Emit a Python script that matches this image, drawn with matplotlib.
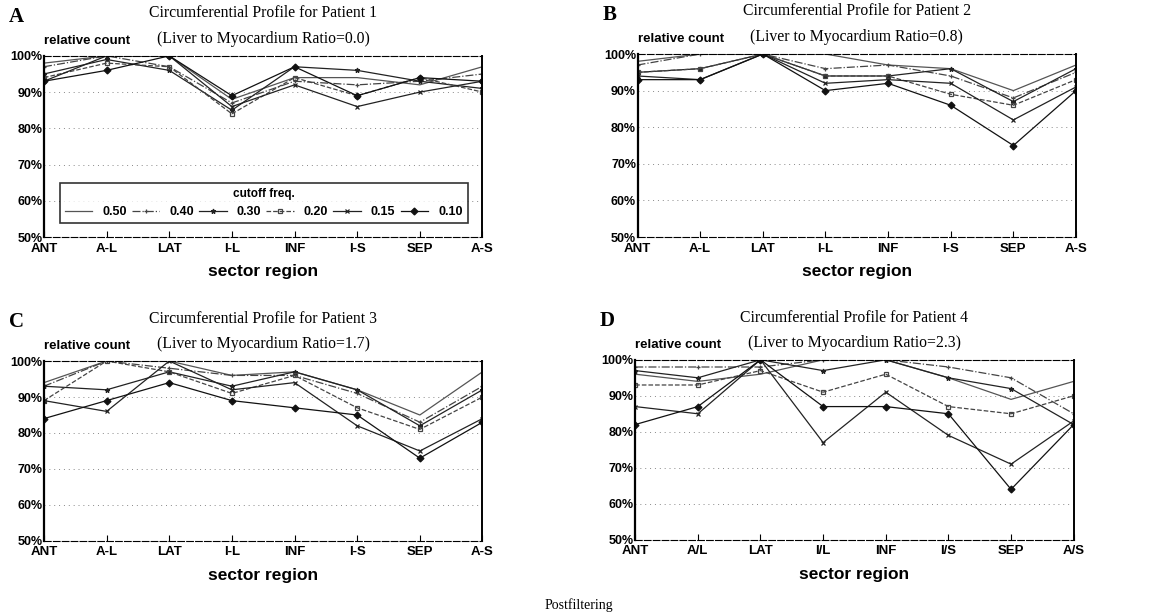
import matplotlib
matplotlib.use("Agg")
import matplotlib.pyplot as plt
from matplotlib.transforms import ScaledTranslation

sectors = ["ANT", "A-L", "LAT", "I-L", "INF", "I-S", "SEP", "A-S"]
sectors_d = ["ANT", "A/L", "LAT", "I/L", "INF", "I/S", "SEP", "A/S"]
cutoffs = ["0.50", "0.40", "0.30", "0.20", "0.15", "0.10"]

# relative count (%) per cutoff frequency, one list per cutoff
patient1 = [
    [98, 100, 100, 88, 94, 94, 92, 97],
    [97, 100, 97, 87, 93, 92, 93, 95],
    [95, 99, 96, 85, 97, 96, 93, 91],
    [94, 98, 97, 84, 94, 89, 94, 90],
    [93, 100, 100, 86, 92, 86, 90, 93],
    [93, 96, 100, 89, 97, 89, 94, 93],
]
patient2 = [
    [98, 100, 100, 100, 97, 96, 90, 97],
    [97, 100, 100, 96, 97, 94, 88, 95],
    [95, 96, 100, 94, 94, 96, 87, 96],
    [95, 96, 100, 94, 94, 89, 86, 93],
    [94, 93, 100, 92, 93, 92, 82, 91],
    [93, 93, 100, 90, 92, 86, 75, 90],
]
patient3 = [
    [94, 100, 100, 96, 97, 92, 85, 97],
    [93, 100, 98, 96, 96, 91, 83, 93],
    [93, 92, 97, 93, 97, 92, 82, 92],
    [89, 100, 97, 91, 96, 87, 81, 90],
    [89, 86, 100, 92, 94, 82, 75, 84],
    [84, 89, 94, 89, 87, 85, 73, 83],
]
patient4 = [
    [96, 94, 96, 100, 100, 95, 89, 94],
    [98, 98, 98, 100, 100, 98, 95, 85],
    [97, 95, 100, 97, 100, 95, 92, 82],
    [93, 93, 97, 91, 96, 87, 85, 90],
    [87, 85, 100, 77, 91, 79, 71, 83],
    [82, 87, 100, 87, 87, 85, 64, 82],
]

panels = [
    ("A", 1, "0.0", patient1, sectors, [0.038, 0.614, 0.379, 0.295]),
    ("B", 2, "0.8", patient2, sectors, [0.551, 0.614, 0.379, 0.298]),
    ("C", 3, "1.7", patient3, sectors, [0.038, 0.119, 0.379, 0.293]),
    ("D", 4, "2.3", patient4, sectors_d, [0.549, 0.121, 0.379, 0.293]),
]

markers = ["", "+", "*", "s", "x", "D"]
styles = ["-", "-.", "-", "--", "-", "-"]
colors = ["#555555", "#444444", "#222222", "#444444", "#222222", "#111111"]

sans = "Liberation Sans"
serif = "Liberation Serif"

fig = plt.figure(figsize=(11.57, 6.14), dpi=100)

for letter, num, ratio, data, labels, pos in panels:
    ax = fig.add_axes(pos)
    x = range(len(labels))
    lines = []
    for i, vals in enumerate(data):
        ln, = ax.plot(x, vals, linestyle=styles[i], color=colors[i], lw=0.9,
                      marker=markers[i], markersize=3.5,
                      mfc="none" if markers[i] == "s" else colors[i],
                      mec=colors[i], mew=0.9, label=cutoffs[i])
        lines.append(ln)
    ax.set_xlim(0, 7)
    ax.set_ylim(50, 100)
    yt = [50, 60, 70, 80, 90, 100]
    ax.set_yticks(yt)
    ax.set_yticklabels([f"{v}%" for v in yt], fontfamily=sans, fontweight="bold", fontsize=9)
    # lift the bottom label a little so it clears the first x label
    lab0 = ax.get_yticklabels()[0]
    lab0.set_transform(lab0.get_transform() + ScaledTranslation(0, 3 / 72, fig.dpi_scale_trans))
    ax.set_xticks(list(x))
    ax.set_xticklabels(labels, fontfamily=sans, fontweight="bold", fontsize=9.5)
    ax.tick_params(axis="x", direction="in", length=4, pad=4)
    ax.tick_params(axis="y", length=0, pad=1)
    ax.yaxis.grid(True, linestyle=(0, (1, 4)), color="#888888", lw=0.7)
    for s in ["top", "bottom"]:
        ax.spines[s].set_linewidth(0.8)
        ax.spines[s].set_linestyle((0, (6, 2)))
    ax.spines["left"].set_linewidth(1.6)
    ax.spines["right"].set_linewidth(1.4)
    ax.set_xlabel("sector region", fontfamily=sans, fontweight="bold", fontsize=12.5, labelpad=7)

    ax.text(0.0, 1.05, "relative count", transform=ax.transAxes, fontfamily=sans,
            fontweight="bold", fontsize=9.5, ha="left", va="bottom")
    ax.text(0.5, 1.19, f"Circumferential Profile for Patient {num}", transform=ax.transAxes,
            fontfamily=serif, fontsize=11.3, ha="center", va="bottom")
    ax.text(0.5, 1.05, f"(Liver to Myocardium Ratio={ratio})", transform=ax.transAxes,
            fontfamily=serif, fontsize=11.3, ha="center", va="bottom")
    ax.text(-0.08, 1.16, letter, transform=ax.transAxes, fontfamily=serif,
            fontweight="bold", fontsize=15, ha="left", va="bottom")

    if letter == "A":
        leg = ax.legend(handles=lines, ncol=6, title="cutoff freq.",
                        bbox_to_anchor=(0.036, 0.077, 0.93, 0.325), mode="expand",
                        loc="lower left", frameon=True, fancybox=False,
                        prop={"family": sans, "weight": "bold", "size": 9},
                        title_fontproperties={"family": sans, "weight": "bold", "size": 8.5},
                        handlelength=2.2, columnspacing=1.2, borderaxespad=0)
        leg.get_frame().set_edgecolor("black")
        leg.get_frame().set_linewidth(1.2)

fig.text(0.5, 0.004, "Postfiltering", fontfamily=serif, fontsize=10, ha="center", va="bottom")

fig.savefig("out.png", dpi=100)
